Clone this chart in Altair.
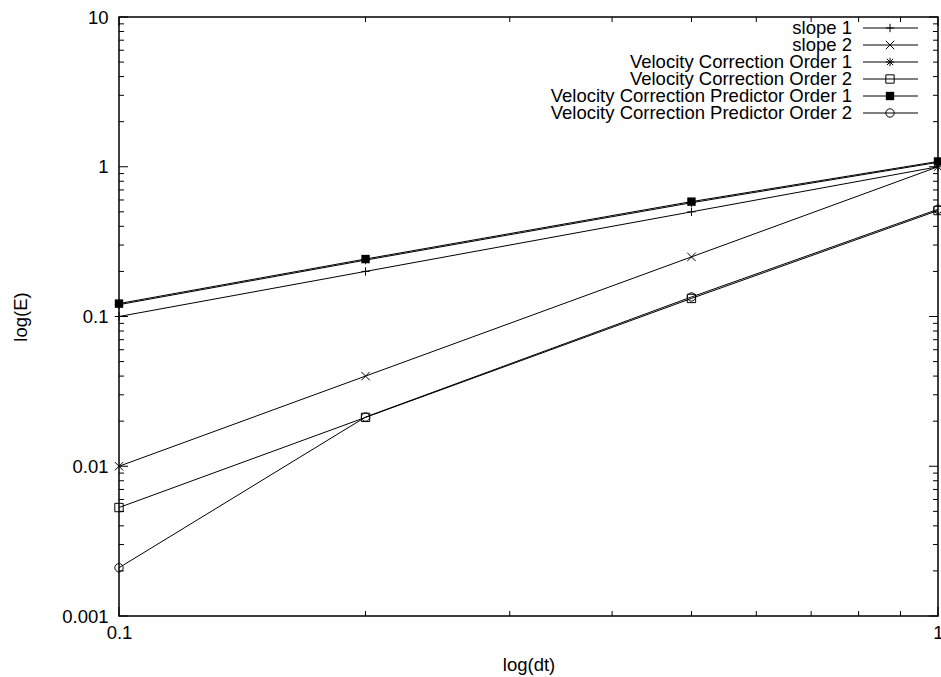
import altair as alt
import pandas as pd

# ---- data ----
dt = [0.1, 0.2, 0.5, 1.0]
series_names = [
    "slope 1",
    "slope 2",
    "Velocity Correction Order 1",
    "Velocity Correction Order 2",
    "Velocity Correction Predictor Order 1",
    "Velocity Correction Predictor Order 2",
]
slope1 = [0.1, 0.2, 0.5, 1.0]
slope2 = [0.01, 0.04, 0.25, 1.0]
vc1 = [0.120, 0.238, 0.575, 1.07]
vc2 = [0.0053, 0.0212, 0.132, 0.51]
vcp1 = [0.122, 0.242, 0.585, 1.085]
vcp2 = [0.0021, 0.0213, 0.135, 0.52]
values = [slope1, slope2, vc1, vc2, vcp1, vcp2]

# axis ticks
x_major = [0.1, 1.0]
x_minor = [0.2, 0.3, 0.4, 0.5, 0.6, 0.7, 0.8, 0.9]
y_major = [0.001, 0.01, 0.1, 1.0, 10.0]
y_minor_mult = [2, 3, 4, 5, 6, 7, 8, 9]
y_decades = [0.001, 0.01, 0.1, 1.0]
y_minor = [m * d for d in y_decades for m in y_minor_mult]

shape_paths = [
    "M-1,0H1M0,-1V1",
    "M-1,-1L1,1M-1,1L1,-1",
    "M-1,0H1M0,-1V1M-0.75,-0.75L0.75,0.75M-0.75,0.75L0.75,-0.75",
    "square",
    "square",
    "circle",
]

rows = list(range(len(series_names)))

W, H = 819, 599
FONT = "Liberation Sans"
FS = 18.5

df = pd.DataFrame(
    [
        {"dt": x, "E": v, "series": s, "idx": i}
        for s, vals in zip(series_names, values)
        for i, (x, v) in enumerate(zip(dt, vals))
    ]
)
legend_df = pd.DataFrame({"series": series_names, "row": rows})

xscale = alt.Scale(type="log", domain=[0.1, 1.0])
yscale = alt.Scale(type="log", domain=[0.001, 10.0])
shape_scale = alt.Scale(domain=series_names, range=shape_paths)

X = alt.X(
    "dt:Q",
    scale=xscale,
    axis=alt.Axis(
        values=x_major,
        format="~g",
        ticks=False,
        domain=False,
        grid=False,
        labelPadding=7,
        labelFontSize=FS,
        labelFont=FONT,
        labelColor="black",
        labelFlush=False,
        labelOverlap=False,
        title="log(dt)",
        titleFont=FONT,
        titleFontSize=FS,
        titleFontWeight="normal",
        titleColor="black",
        titleX=W / 2,
        titleY=48,
        titleBaseline="middle",
        titleAlign="center",
    ),
)
Y = alt.Y(
    "E:Q",
    scale=yscale,
    axis=alt.Axis(
        values=y_major,
        format="~g",
        ticks=False,
        domain=False,
        grid=False,
        labelPadding=11,
        labelFontSize=FS,
        labelFont=FONT,
        labelColor="black",
        labelFlush=False,
        labelOverlap=False,
        title="log(E)",
        titleFont=FONT,
        titleFontSize=FS,
        titleFontWeight="normal",
        titleColor="black",
        titleX=-99,
        titleY=H / 2,
        titleAngle=270,
        titleBaseline="middle",
        titleAlign="center",
    ),
)

base = alt.Chart(df)

lines = base.mark_line(color="black", strokeWidth=1).encode(
    x=X, y=Y, detail="series:N", order="idx:Q"
)
open_pts = (
    base.transform_filter(alt.datum.series != series_names[4])
    .mark_point(filled=False, color="black", strokeWidth=1, opacity=1, size=70)
    .encode(
        x=alt.X("dt:Q", scale=xscale),
        y=alt.Y("E:Q", scale=yscale),
        shape=alt.Shape("series:N", scale=shape_scale, legend=None),
    )
)
filled_pts = (
    base.transform_filter(alt.datum.series == series_names[4])
    .mark_square(color="black", opacity=1, size=70)
    .encode(x=alt.X("dt:Q", scale=xscale), y=alt.Y("E:Q", scale=yscale))
)

# inward ticks
MAJ, MIN = 9, 5
def xticks(vals, length):
    d = alt.Data(values=[{"v": v} for v in vals])
    bottom = alt.Chart(d).mark_rule(color="black", strokeWidth=1).encode(
        x=alt.X("v:Q", scale=xscale), y=alt.value(H), y2=alt.value(H - length)
    )
    top = alt.Chart(d).mark_rule(color="black", strokeWidth=1).encode(
        x=alt.X("v:Q", scale=xscale), y=alt.value(0), y2=alt.value(length)
    )
    return [bottom, top]

def yticks(vals, length):
    d = alt.Data(values=[{"v": v} for v in vals])
    left = alt.Chart(d).mark_rule(color="black", strokeWidth=1).encode(
        y=alt.Y("v:Q", scale=yscale), x=alt.value(0), x2=alt.value(length)
    )
    right = alt.Chart(d).mark_rule(color="black", strokeWidth=1).encode(
        y=alt.Y("v:Q", scale=yscale), x=alt.value(W), x2=alt.value(W - length)
    )
    return [left, right]

tick_layers = xticks(x_major, MAJ) + xticks(x_minor, MIN) + yticks(y_major, MAJ) + yticks(y_minor, MIN)

# manual legend (label left of sample, gnuplot style)
LY = alt.Y("row:Q", scale=alt.Scale(domain=[0, len(rows) - 1], range=[11, 96]), axis=None)
lbase = alt.Chart(legend_df)
leg_text = lbase.mark_text(
    align="right", baseline="middle", font=FONT, fontSize=FS, color="black"
).encode(x=alt.value(733), y=LY, text="series:N")
leg_line = lbase.mark_rule(color="black", strokeWidth=1).encode(
    x=alt.value(744), x2=alt.value(799), y=LY
)
leg_open = (
    lbase.transform_filter(alt.datum.series != series_names[4])
    .mark_point(filled=False, color="black", strokeWidth=1, opacity=1, size=70)
    .encode(
        x=alt.value(771),
        y=LY,
        shape=alt.Shape("series:N", scale=shape_scale, legend=None),
    )
)
leg_filled = (
    lbase.transform_filter(alt.datum.series == series_names[4])
    .mark_square(color="black", opacity=1, size=70)
    .encode(x=alt.value(771), y=LY)
)

main = alt.layer(lines, *tick_layers, open_pts, filled_pts)
legend = alt.layer(leg_text, leg_line, leg_open, leg_filled)

chart = (
    alt.layer(main, legend)
    .resolve_scale(y="independent")
    .properties(
        width=W,
        height=H,
        autosize=alt.AutoSizeParams(type="none"),
        padding={"left": 119, "top": 17, "right": 3, "bottom": 61},
        background="white",
    )
    .configure_view(stroke="black", strokeWidth=1.5)
)

chart.save("out.html", embed_options={"renderer": "svg", "actions": False})
